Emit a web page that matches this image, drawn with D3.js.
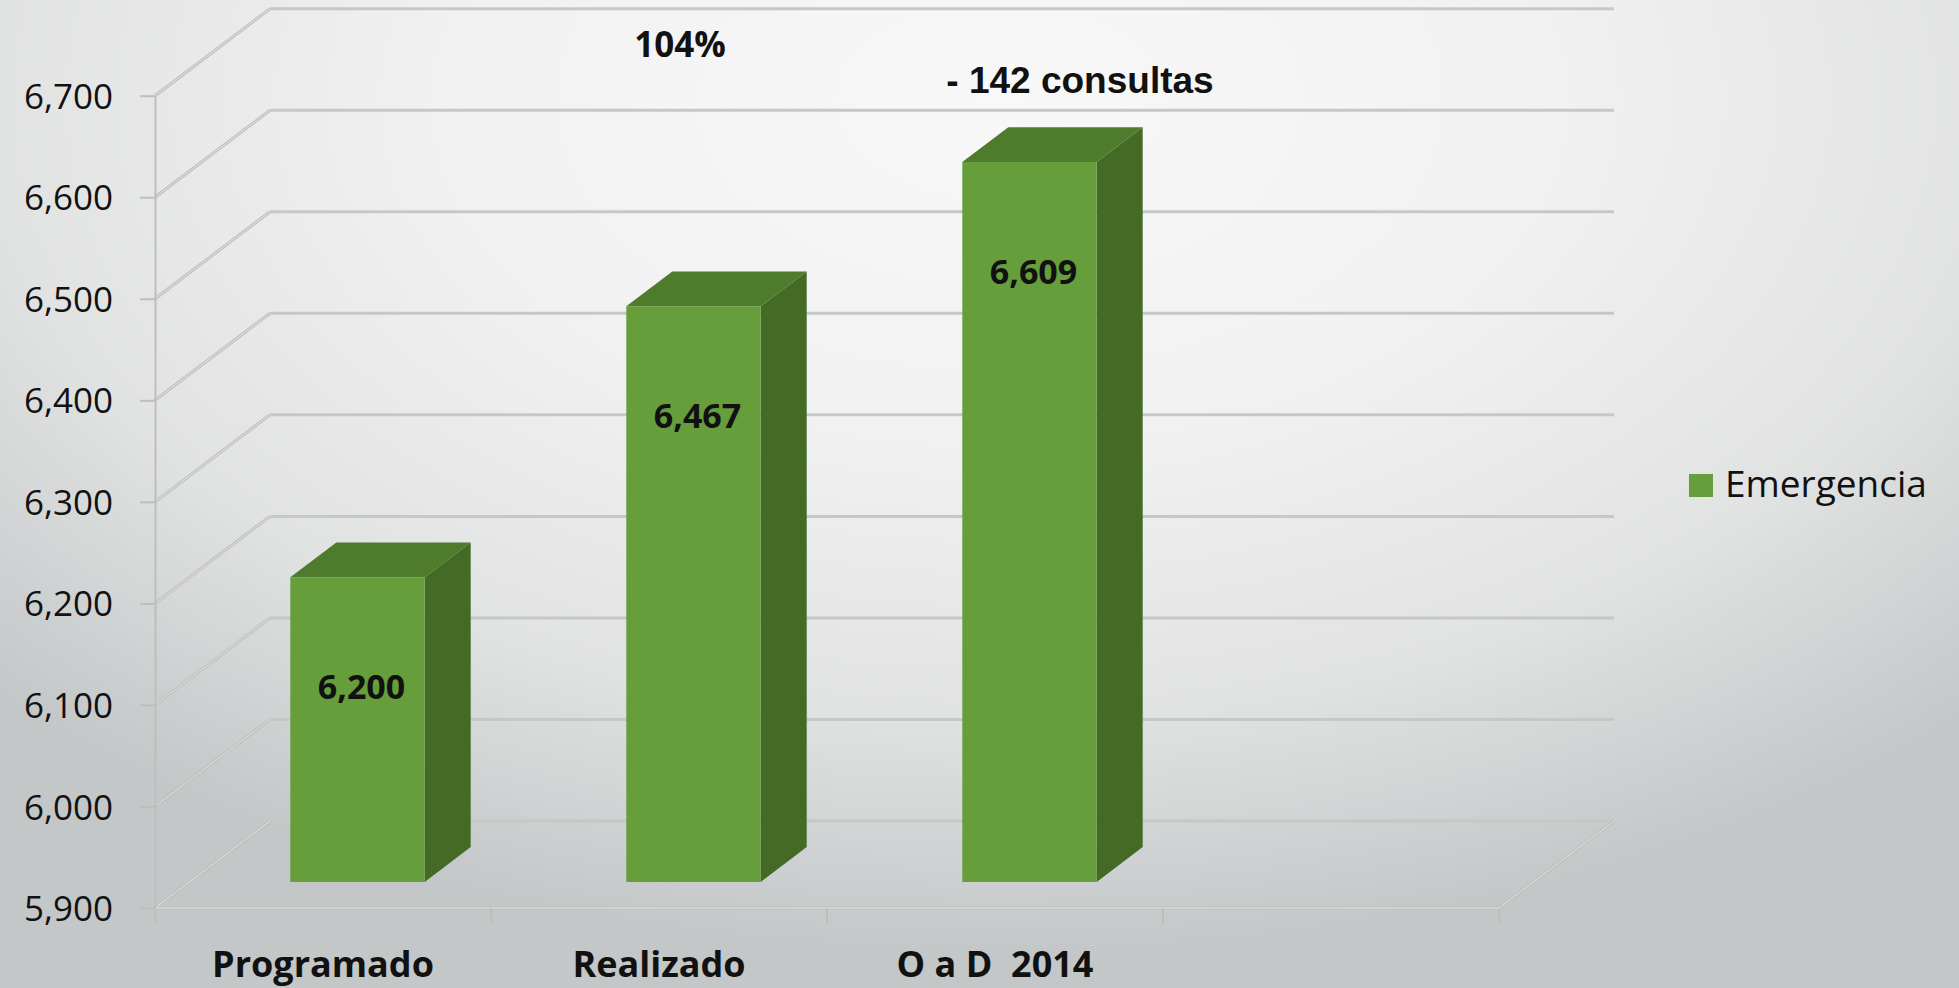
<!DOCTYPE html>
<html>
<head>
<meta charset="utf-8">
<script src="https://cdn.jsdelivr.net/npm/d3@7"></script>
<style>
  html, body { margin: 0; padding: 0; overflow: hidden; }
  svg { display: block; }
  .tick-label { font-family: "Open Sans", sans-serif; font-size: 35px; fill: #111; }
  .cat-label { font-family: "Open Sans", sans-serif; font-weight: bold; font-size: 36px; fill: #111; white-space: pre; }
  .bar-label { font-family: "Open Sans", sans-serif; font-weight: bold; font-size: 34px; fill: #111; }
</style>
</head>
<body>
<svg id="chart" width="1959" height="988"></svg>
<script>
// data
const categories = ["Programado", "Realizado", "O a D  2014", ""];
const values = [6200, 6467, 6609, null];
const yTicks = [5900, 6000, 6100, 6200, 6300, 6400, 6500, 6600, 6700];
const seriesName = "Emergencia";
const notes = ["104%", "- 142 consultas"];

const W = 1959, H = 988;
const svg = d3.select("#chart");

// 3d look: a depth of 1 moves a point by (DX, DY)
const DX = 115, DY = -87;
const zFront = 0.3, zBack = 0.7;

const x = d3.scaleBand().domain(categories).range([155, 1499]).paddingInner(0).paddingOuter(0);
const y = d3.scaleLinear().domain([5900, 6700]).range([908, 95.7]);

function proj(px, v, z) {
  return [px + z * DX, y(v) + z * DY];
}

// background
const defs = svg.append("defs");
const grad = defs.append("radialGradient")
    .attr("id", "bg")
    .attr("gradientUnits", "userSpaceOnUse")
    .attr("cx", 1000).attr("cy", 100).attr("r", 1400)
    .attr("gradientTransform", "translate(0,100) scale(1,0.61) translate(0,-100)");
[[0, "#f8f8f8"], [0.4, "#f1f1f1"], [0.72, "#e1e2e2"], [1, "#c3c7c8"]].forEach(s => {
  grad.append("stop").attr("offset", s[0]).attr("stop-color", s[1]);
});
svg.append("rect").attr("width", W).attr("height", H).attr("fill", "url(#bg)");

// walls and floor
const grid = svg.append("g").attr("class", "grid");
const x0 = x.range()[0], x1 = x.range()[1];

grid.selectAll(".back").data(yTicks).enter().append("line")
    .attr("class", "back")
    .attr("x1", d => proj(x0, d, 1)[0]).attr("y1", d => proj(x0, d, 1)[1])
    .attr("x2", d => proj(x1, d, 1)[0]).attr("y2", d => proj(x1, d, 1)[1])
    .attr("stroke", "#c6c7c7").attr("stroke-width", 3);

const diag = yTicks.map(t => [proj(x0, t, 0), proj(x0, t, 1)]);
diag.push([proj(x1, 5900, 0), proj(x1, 5900, 1)]);
diag.push([proj(x0, 5900, 0), proj(x1, 5900, 0)]);
grid.selectAll(".side").data(diag).enter().append("line")
    .attr("class", "side")
    .attr("x1", d => d[0][0]).attr("y1", d => d[0][1])
    .attr("x2", d => d[1][0]).attr("y2", d => d[1][1])
    .attr("stroke", "#bcbdbd").attr("stroke-width", 3);
grid.selectAll(".side-hi").data(diag).enter().append("line")
    .attr("class", "side-hi")
    .attr("x1", d => d[0][0]).attr("y1", d => d[0][1])
    .attr("x2", d => d[1][0]).attr("y2", d => d[1][1])
    .attr("stroke", "#e6e6e6").attr("stroke-width", 1);

// value axis
const yAxis = svg.append("g")
    .attr("transform", "translate(" + x0 + ",0)")
    .call(d3.axisLeft(y).tickValues(yTicks).tickFormat(d3.format(",")).tickSize(15).tickSizeOuter(0).tickPadding(27));
yAxis.select(".domain").attr("stroke", "#bdbebe").attr("stroke-width", 2);
yAxis.selectAll(".tick line").attr("stroke", "#bdbebe").attr("stroke-width", 2);
yAxis.selectAll(".tick text").attr("class", "tick-label").attr("dy", "0.36em")
    .attr("font-family", null).attr("font-size", null).attr("fill", null);

// category axis ticks at the band edges
const edges = categories.map(c => x(c)).concat([x1]);
svg.append("g").selectAll("line").data(edges).enter().append("line")
    .attr("x1", d => d).attr("x2", d => d)
    .attr("y1", y(5900)).attr("y2", y(5900) + 15)
    .attr("stroke", "#bdbebe").attr("stroke-width", 2);

svg.append("g").selectAll("text").data(categories).enter().append("text")
    .attr("class", "cat-label")
    .attr("x", d => x(d) + x.bandwidth() / 2)
    .attr("y", 977)
    .attr("text-anchor", "middle")
    .text(d => d);

// bars
const barW = x.bandwidth() * 0.4;
const bars = categories.map((c, i) => ({ c: c, v: values[i] })).filter(d => d.v != null);

const frontColor = "#669e3b", topColor = "#4f7b2d", sideColor = "#446b26";
const pts = a => a.map(p => p.join(",")).join(" ");

const g = svg.append("g").attr("class", "bars")
  .selectAll("g").data(bars).enter().append("g");

g.append("polygon")
    .attr("fill", sideColor)
    .attr("points", d => {
      const bx = x(d.c) + x.bandwidth() * 0.3 + barW;
      return pts([proj(bx, 5900, zFront), proj(bx, d.v, zFront), proj(bx, d.v, zBack), proj(bx, 5900, zBack)]);
    });
g.append("polygon")
    .attr("fill", topColor)
    .attr("points", d => {
      const bx = x(d.c) + x.bandwidth() * 0.3;
      return pts([proj(bx, d.v, zFront), proj(bx + barW, d.v, zFront), proj(bx + barW, d.v, zBack), proj(bx, d.v, zBack)]);
    });
g.append("polygon")
    .attr("fill", frontColor)
    .attr("points", d => {
      const bx = x(d.c) + x.bandwidth() * 0.3;
      return pts([proj(bx, 5900, zFront), proj(bx, d.v, zFront), proj(bx + barW, d.v, zFront), proj(bx + barW, 5900, zFront)]);
    });
g.append("text")
    .attr("class", "bar-label")
    .attr("text-anchor", "middle")
    .attr("x", d => proj(x(d.c) + x.bandwidth() / 2, d.v, zFront)[0] + 4)
    .attr("y", d => proj(0, d.v, zFront)[1] + 122)
    .text(d => d3.format(",")(d.v));

// notes above the bars
svg.append("text")
    .attr("x", 680).attr("y", 57)
    .attr("text-anchor", "middle")
    .attr("font-family", "Open Sans, sans-serif").attr("font-weight", "bold").attr("font-size", 35)
    .attr("fill", "#111")
    .text(notes[0]);
svg.append("text")
    .attr("x", 1080).attr("y", 93)
    .attr("text-anchor", "middle")
    .attr("font-family", "Liberation Sans, Arial, sans-serif").attr("font-weight", "bold").attr("font-size", 37)
    .attr("fill", "#111")
    .text(notes[1]);

// legend
const legend = svg.append("g").attr("transform", "translate(1689,474)");
legend.append("rect").attr("width", 24).attr("height", 23).attr("fill", frontColor);
legend.append("text")
    .attr("x", 36).attr("y", 23)
    .attr("font-family", "Open Sans, sans-serif").attr("font-size", 37)
    .attr("fill", "#111")
    .text(seriesName);
</script>
</body>
</html>
